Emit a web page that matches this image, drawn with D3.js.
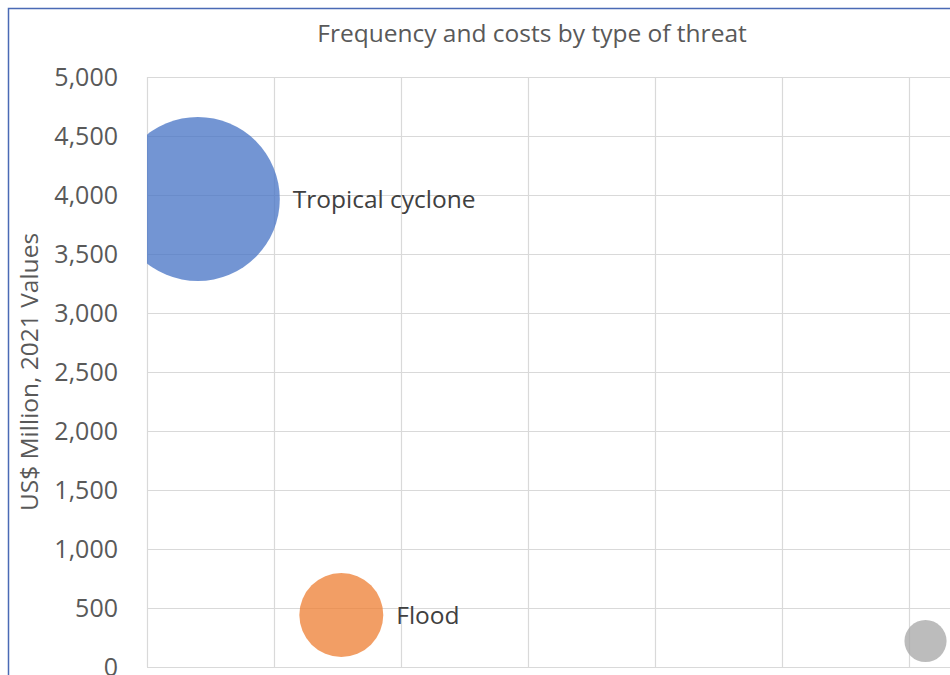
<!DOCTYPE html>
<html>
<head>
<meta charset="utf-8">
<script src="https://cdn.jsdelivr.net/npm/d3@7"></script>
<style>
  body { margin: 0; overflow: hidden; background: #fff; }
  text { font-family: "Open Sans", sans-serif; }
</style>
</head>
<body>
<script>
// threats, frequency (x), cost in US$ million (y), bubble size
var threats = ["Tropical cyclone", "Flood", ""];
var frequency = [4.0, 15.3, 61.3];
var costs = [3966, 441, 220];
var sizes = [100, 26.2, 6.6];
var colors = ["#4472C4", "#ED7D31", "#A5A5A5"];
var yTicks = [0, 500, 1000, 1500, 2000, 2500, 3000, 3500, 4000, 4500, 5000];
var xTicks = [0, 10, 20, 30, 40, 50, 60, 70];

var width = 950, height = 675;
var plot = {left: 147, top: 77, right: 1036, bottom: 667};

var svg = d3.select("body").append("svg")
  .attr("width", width)
  .attr("height", height);

// cadre du graphique
svg.append("rect")
  .attr("x", 8.5).attr("y", 8.5)
  .attr("width", 1000).attr("height", 1000)
  .attr("fill", "none")
  .attr("stroke", "#4a6ab5")
  .attr("stroke-width", 1.5);

var x = d3.scaleLinear().domain([0, 70]).range([plot.left, plot.right]);
var y = d3.scaleLinear().domain([0, 5000]).range([plot.bottom, plot.top]);
var r = d3.scaleSqrt().domain([0, 100]).range([0, 82]);

// grilles
var yGrid = d3.axisLeft(y).tickValues(yTicks).tickSize(-(plot.right - plot.left)).tickFormat("");
svg.append("g")
  .attr("transform", "translate(" + plot.left + ",0)")
  .call(yGrid)
  .call(g => g.select(".domain").remove())
  .call(g => g.selectAll("line").attr("stroke", "#d9d9d9").attr("stroke-width", 1.2));

var xGrid = d3.axisBottom(x).tickValues(xTicks).tickSize(-(plot.bottom - plot.top)).tickFormat("");
svg.append("g")
  .attr("transform", "translate(0," + plot.bottom + ")")
  .call(xGrid)
  .call(g => g.select(".domain").remove())
  .call(g => g.selectAll("line").attr("stroke", "#d9d9d9").attr("stroke-width", 1.2));

// axe Y
var yAxis = d3.axisLeft(y).tickValues(yTicks).tickSize(0).tickPadding(29)
  .tickFormat(d3.format(","));
svg.append("g")
  .attr("transform", "translate(" + plot.left + ",0)")
  .call(yAxis)
  .call(g => g.select(".domain").remove())
  .call(g => g.selectAll("text")
    .attr("fill", "#595959")
    .style("font-size", "25px")
    .style("font-family", "'Open Sans', sans-serif"));

// bulles
svg.append("clipPath").attr("id", "plotClip")
  .append("rect")
  .attr("x", plot.left).attr("y", plot.top)
  .attr("width", plot.right - plot.left).attr("height", plot.bottom - plot.top);

var data = threats.map((t, i) => ({name: t, fx: frequency[i], cost: costs[i], size: sizes[i], color: colors[i]}));

svg.append("g").attr("clip-path", "url(#plotClip)")
  .selectAll("circle")
  .data(data)
  .join("circle")
  .attr("cx", d => x(d.fx))
  .attr("cy", d => y(d.cost))
  .attr("r", d => r(d.size))
  .attr("fill", d => d.color)
  .attr("fill-opacity", 0.75);

svg.append("g")
  .selectAll("text")
  .data(data.filter(d => d.name))
  .join("text")
  .attr("x", d => x(d.fx) + r(d.size) + 13)
  .attr("y", d => y(d.cost))
  .attr("dy", "0.35em")
  .attr("fill", "#404040")
  .style("font-size", "24.5px")
  .text(d => d.name);

// titres
svg.append("text")
  .attr("x", 532).attr("y", 33)
  .attr("dy", "0.35em")
  .attr("text-anchor", "middle")
  .attr("fill", "#595959")
  .style("font-size", "24.5px")
  .text("Frequency and costs by type of threat");

svg.append("text")
  .attr("transform", "translate(29,372) rotate(-90)")
  .attr("dy", "0.35em")
  .attr("text-anchor", "middle")
  .attr("fill", "#595959")
  .style("font-size", "24.5px")
  .text("US$ Million, 2021 Values");
</script>
</body>
</html>
